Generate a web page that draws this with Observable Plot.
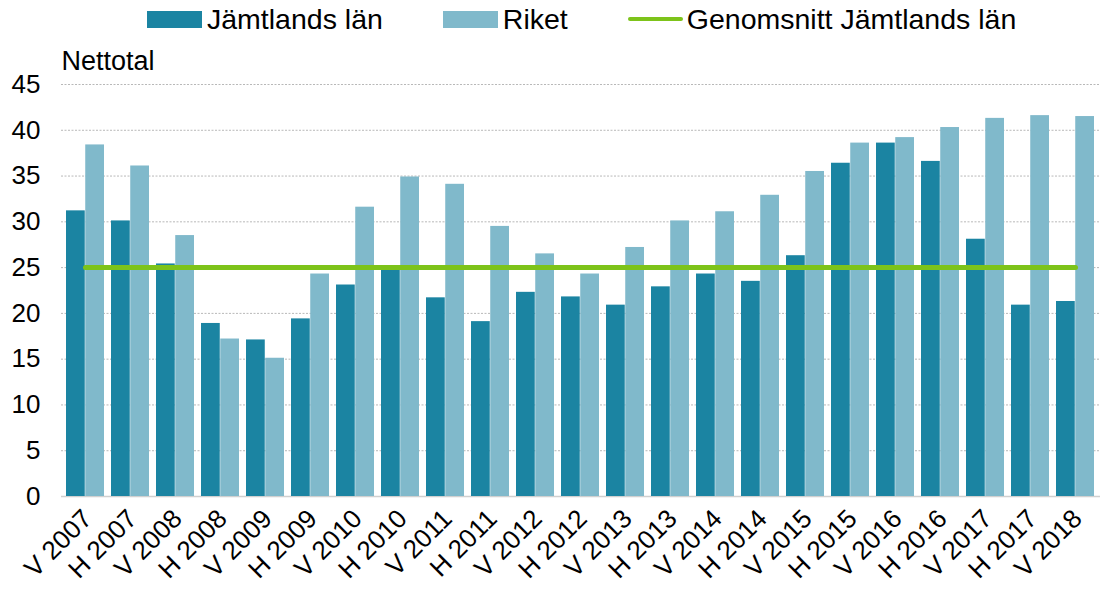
<!DOCTYPE html>
<html><head><meta charset="utf-8">
<script src="https://cdn.jsdelivr.net/npm/d3@7"></script>
<script src="https://cdn.jsdelivr.net/npm/@observablehq/plot@0.6"></script>
<style>
body{margin:0;background:#fff;font-family:"Liberation Sans",Arial,sans-serif;}
#legend{height:38px;display:flex;align-items:center;padding-left:147px;font-size:28.5px;color:#000;}
.item{display:flex;align-items:center;margin-right:60px;}
.sw{width:55px;height:17px;margin-right:5px;}
.ln{width:55px;height:4px;margin-right:4px;border-radius:2px;}
</style></head><body>
<div id="legend"></div>
<div id="chart"></div>
<script>
const categories = ["V 2007","H 2007","V 2008","H 2008","V 2009","H 2009","V 2010","H 2010","V 2011","H 2011","V 2012","H 2012","V 2013","H 2013","V 2014","H 2014","V 2015","H 2015","V 2016","H 2016","V 2017","H 2017","V 2018"];
const jamtland = [31.2,30.1,25.4,18.9,17.1,19.4,23.1,24.9,21.7,19.1,22.3,21.8,20.9,22.9,24.3,23.5,26.3,36.4,38.6,36.6,28.1,20.9,21.3];
const riket = [38.4,36.1,28.5,17.2,15.1,24.3,31.6,34.9,34.1,29.5,26.5,24.3,27.2,30.1,31.1,32.9,35.5,38.6,39.2,40.3,41.3,41.6,41.5];
const average = 25;
const seriesNames = ["Jämtlands län","Riket","Genomsnitt Jämtlands län"];
const colors = ["#1b84a2","#80b9cb","#7dc31a"];
const yTicks = [0,5,10,15,20,25,30,35,40,45];

const legend = document.getElementById("legend");
seriesNames.forEach((n,i)=>{
  const it=document.createElement("div");it.className="item";
  const s=document.createElement("div");s.className=i<2?"sw":"ln";s.style.background=colors[i];
  const t=document.createElement("span");t.textContent=n;
  it.appendChild(s);it.appendChild(t);legend.appendChild(it);
});

const width=1103, height=553, mL=61, mR=3;
const pi=0.15, po=0.05;
const step=(width-mL-mR)/(categories.length-pi+2*po);
const half=step*(1-pi)/2;

const rows = categories.map((c,i)=>({cat:c,j:jamtland[i],r:riket[i],avg:average}));

const chart = Plot.plot({
  width, height,
  marginLeft:mL, marginRight:mR, marginTop:46, marginBottom:95,
  style:{fontFamily:"'Liberation Sans', Arial, sans-serif", fontSize:"22px", color:"#000", background:"#fff"},
  x:{domain:categories, paddingInner:pi, paddingOuter:po, label:null},
  y:{domain:[0,45], ticks:yTicks, label:null},
  marks:[
    Plot.gridY(yTicks.filter(d=>d>0),{stroke:"#b8b8b8",strokeOpacity:1,strokeDasharray:"2,1.5"}),
    Plot.ruleY([0],{stroke:"#d0d0d0",strokeWidth:1.5}),
    Plot.barY(rows,{x:"cat",y:"j",fill:colors[0],insetRight:half,insetLeft:0}),
    Plot.barY(rows,{x:"cat",y:"r",fill:colors[1],insetLeft:half,insetRight:0}),
    Plot.line(rows,{x:"cat",y:"avg",stroke:colors[2],strokeWidth:5,strokeLinecap:"round"}),
    Plot.axisY({ticks:yTicks,tickSize:0,tickPadding:21,fontSize:26,label:null}),
    Plot.axisX({tickSize:0,tickPadding:18,tickRotate:-45,fontSize:26,label:null,dx:2}),
    Plot.text(["Nettotal"],{frameAnchor:"top-left",textAnchor:"start",dy:-34,dx:0,fontSize:27})
  ]
});
document.getElementById("chart").appendChild(chart);
</script></body></html>
